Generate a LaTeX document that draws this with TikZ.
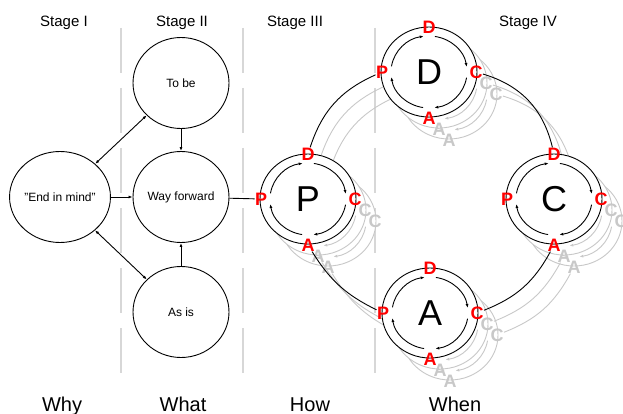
\documentclass[tikz,border=0pt]{standalone}
\usepackage{fontspec}
\setmainfont{Liberation Sans}
\usetikzlibrary{arrows.meta,shapes.geometric}
\definecolor{ghost}{RGB}{200,200,200}
\definecolor{rulegrey}{RGB}{215,215,215}

\tikzset{
  stage/.style={draw,ellipse,minimum width=96pt,minimum height=91pt,inner sep=0pt,font=\fontsize{12}{14}\selectfont},
  tip/.style={-{Latex[length=4pt,width=3pt]}},
  tips/.style={{Latex[length=4pt,width=3pt]}-{Latex[length=4pt,width=3pt]}},
  letter/.style={inner sep=0pt,font=\fontsize{18}{18}\selectfont\bfseries},
  bigletter/.style={inner sep=0pt,font=\fontsize{36}{36}\selectfont},
  heading/.style={anchor=base,font=\fontsize{15}{18}\selectfont},
  question/.style={anchor=base,font=\fontsize{20}{24}\selectfont},
}

% one PDCA ring: name, centre, big letter, line colour, letter colour
\newcommand{\pdcaring}[5]{%
  \begin{scope}[shift={(#2)}]
    \filldraw[#4,fill=white] (0,0) ellipse [x radius=48, y radius=45];
    \foreach \s/\e in {189/262,279/352,9/82,99/172}
      \draw[#4,tip] (\s:38 and 36) arc[start angle=\s, end angle=\e, x radius=38, y radius=36];
    \node[bigletter,text=#4] at (0,0) {#3};
    \node[letter,text=#5] (#1P) at (-47,0) {P};
    \node[letter,text=#5] (#1D) at (0,-45) {D};
    \node[letter,text=#5] (#1C) at (47,0) {C};
    \node[letter,text=#5] (#1A) at (0,46) {A};
  \end{scope}
}

% the four rings and their links
\newcommand{\pdcaloop}[3]{%
  \pdcaring{#1p}{308,199}{P}{#2}{#3}
  \pdcaring{#1d}{429,72}{D}{#2}{#3}
  \pdcaring{#1c}{554,199}{C}{#2}{#3}
  \pdcaring{#1a}{430,313}{A}{#2}{#3}
  \draw[#2] (#1pD) to[bend left=24] (#1dP);
  \draw[#2] (#1dC) to[bend left=30] (#1cD);
  \draw[#2] (#1cA) to[bend left=20] (#1aC);
  \draw[#2] (#1pA) to[bend right=16] (#1aP);
}

\begin{document}
\begin{tikzpicture}[x=1pt,y=-1pt,line width=0.9pt]
  \useasboundingbox (0,0) rectangle (623,414);

  % stage separators
  \foreach \x in {121,243,375}
    \draw[rulegrey,line width=1.5pt,dash pattern=on 45pt off 15pt] (\x,28) -- (\x,380);

  % headings
  \node[heading] at (64,27) {Stage I};
  \node[heading] at (182,27) {Stage II};
  \node[heading] at (295,27) {Stage III};
  \node[heading] at (528,27) {Stage IV};
  \node[question] at (62,411) {Why};
  \node[question] at (183,411) {What};
  \node[question] at (310,411) {How};
  \node[question] at (455,411) {When};

  % earlier cycles, greyed out
  \begin{scope}[shift={(20,22)}]
    \pdcaloop{gb}{ghost}{ghost}
  \end{scope}
  \begin{scope}[shift={(10,11)}]
    \pdcaloop{ga}{ghost}{ghost}
  \end{scope}
  \pdcaloop{}{black}{red}

  % stages I and II
  \node[stage] (mind) at (60,197) {"End in mind"};
  \node[stage] (tobe) at (181,83) {To be};
  \node[stage] (way) at (181,197) {Way forward};
  \node[stage] (asis) at (181,312) {As is};

  \draw[tips] (mind) -- (tobe);
  \draw[tips] (mind) -- (asis);
  \draw[tip] (mind) -- (way);
  \draw[tip] (tobe) -- (way);
  \draw[tip] (asis) -- (way);
  \draw (way) -- (pP);
\end{tikzpicture}
\end{document}
